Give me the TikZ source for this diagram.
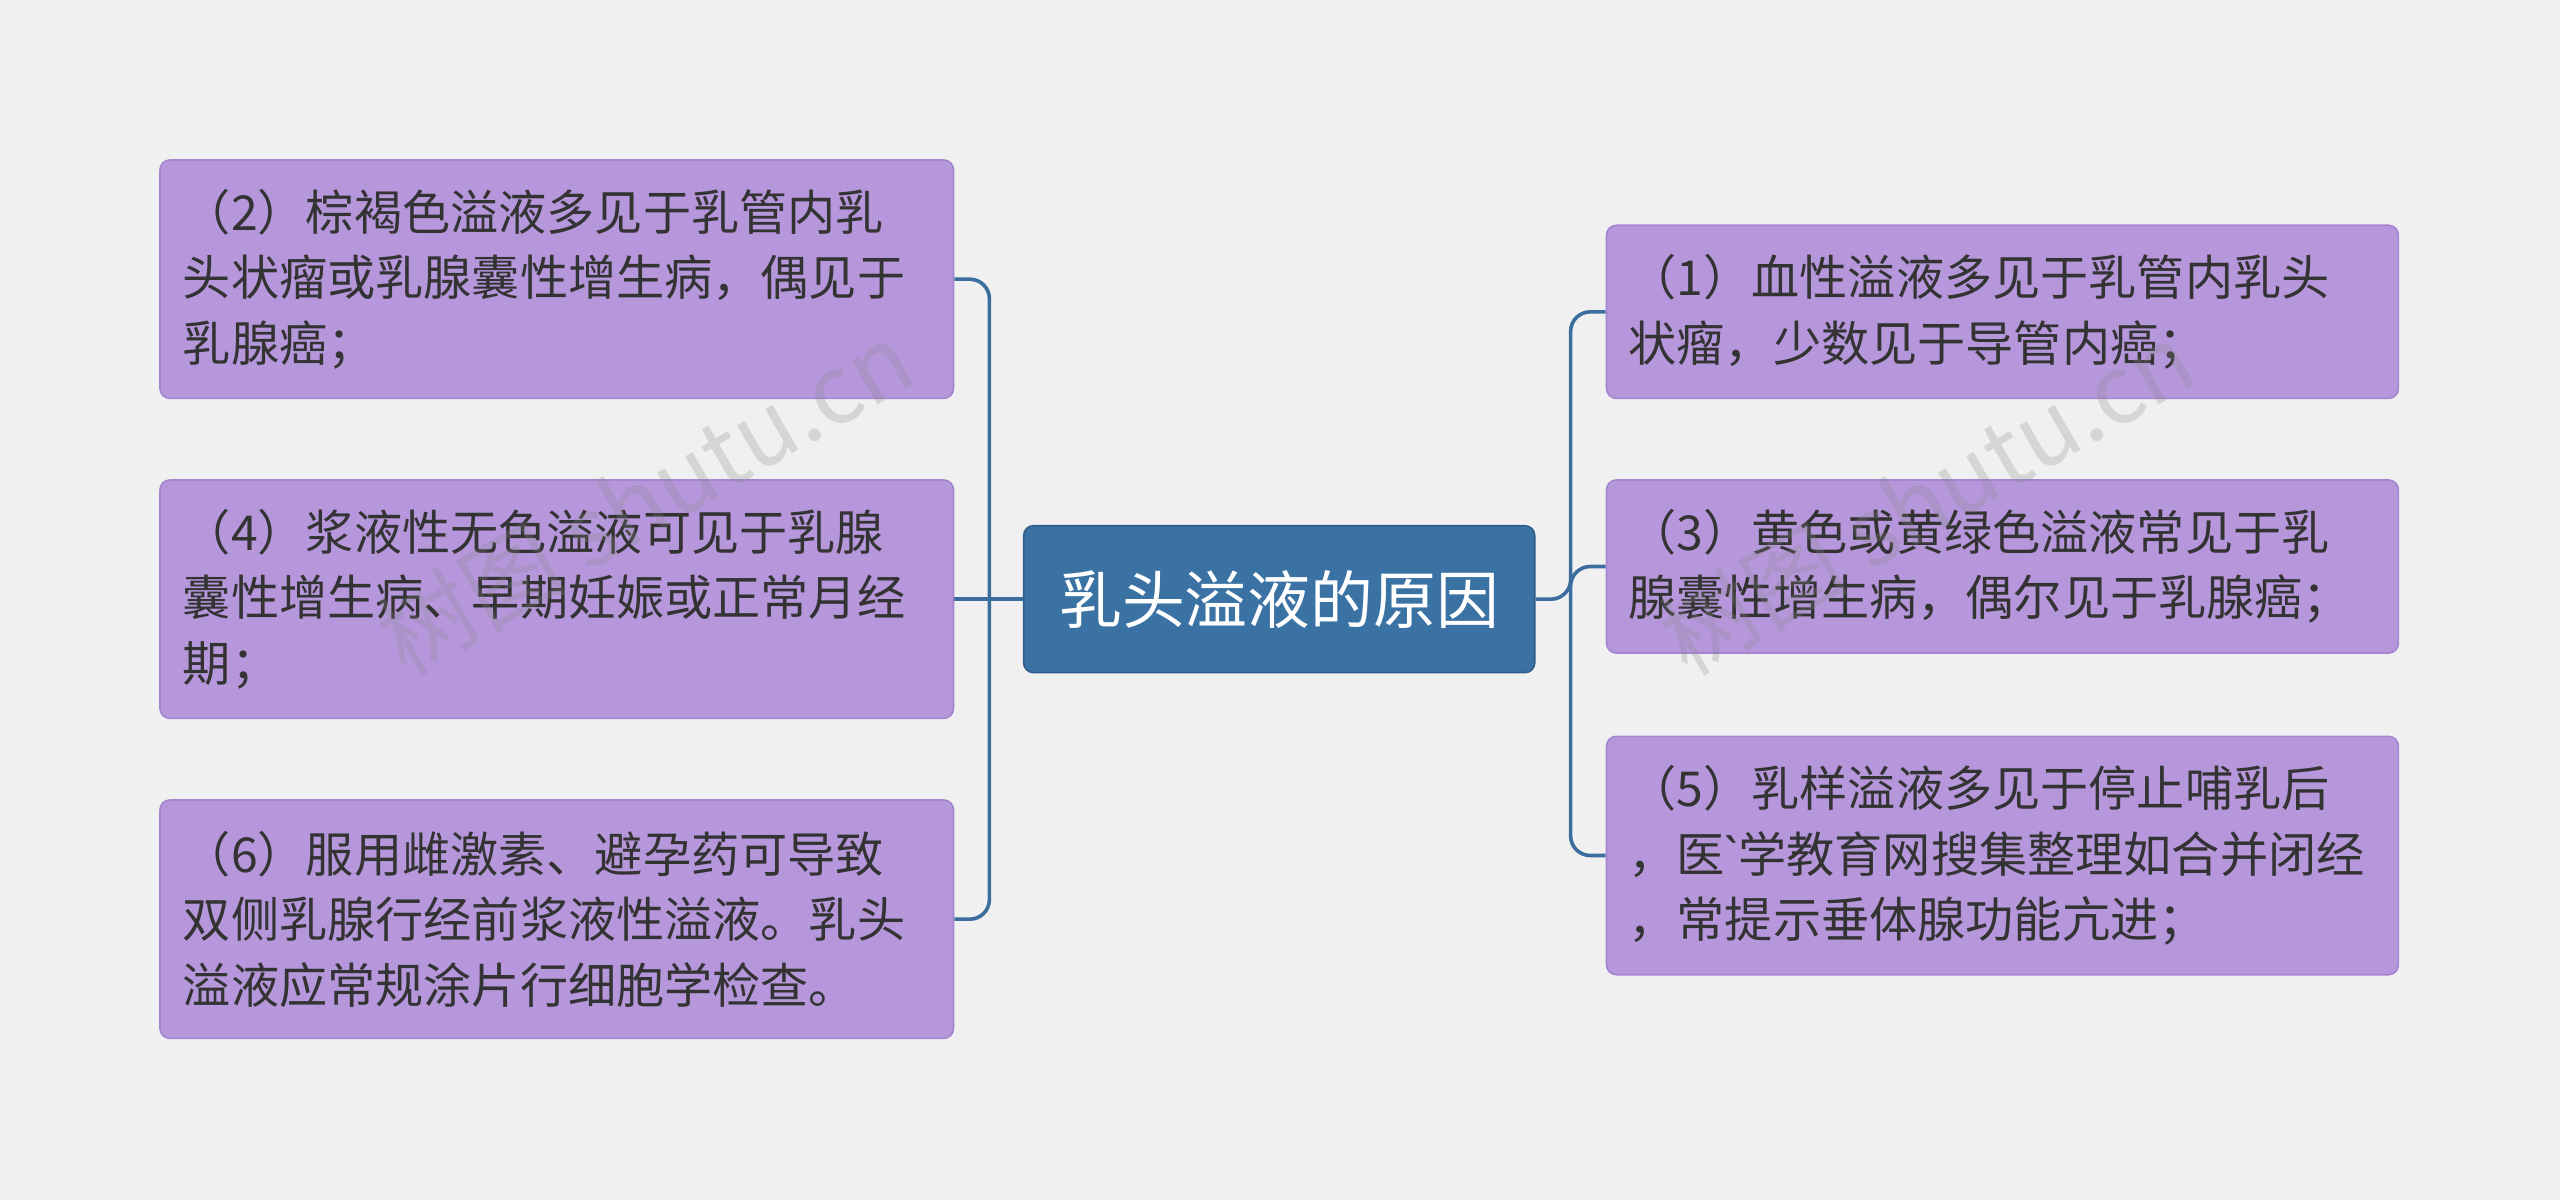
\documentclass[tikz,border=0pt]{standalone}
\usepackage{fontspec}
\setmainfont{Noto Sans CJK SC}
\newfontfamily\latinfont{Noto Sans}
\begin{document}
\begin{tikzpicture}[x=1pt,y=-1pt,
  leaf/.style={draw=leafborder,fill=leaffill,rounded corners=6pt,line width=1pt,align=left,text=txt,font=\fontsize{29.5}{40}\selectfont,inner sep=0pt,text width=458pt},
  root/.style={draw=rootborder,fill=rootfill,rounded corners=6pt,line width=1pt,text=white,font=\fontsize{38.5}{44}\selectfont},
  link/.style={draw=linkc,line width=2.2pt,rounded corners=12pt}]
\definecolor{bg}{HTML}{F0F0F0}
\definecolor{leaffill}{HTML}{B697DB}
\definecolor{leafborder}{HTML}{A585D0}
\definecolor{rootfill}{HTML}{3B72A4}
\definecolor{rootborder}{HTML}{2E5E8C}
\definecolor{linkc}{HTML}{3B6E9E}
\definecolor{txt}{HTML}{333333}
\definecolor{wm}{HTML}{888888}
\fill[bg] (0,0) rectangle (1568,735);
\useasboundingbox (0,0) rectangle (1568,735);
% boxes
\node[root,minimum width=313pt,minimum height=90pt] (c) at (783.5,367) {乳头溢液的原因};
\node[leaf,minimum width=486pt,minimum height=146pt] (l1) at (341,171) {（2）棕褐色溢液多见于乳管内乳\\头状瘤或乳腺囊性增生病，偶见于\\乳腺癌；};
\node[leaf,minimum width=486pt,minimum height=146pt] (l2) at (341,367) {（4）浆液性无色溢液可见于乳腺\\囊性增生病、早期妊娠或正常月经\\期；};
\node[leaf,minimum width=486pt,minimum height=146pt] (l3) at (341,563) {（6）服用雌激素、避孕药可导致\\双侧乳腺行经前浆液性溢液。乳头\\溢液应常规涂片行细胞学检查。};
\node[leaf,minimum width=485pt,minimum height=106pt] (r1) at (1226.5,191) {（1）血性溢液多见于乳管内乳头\\状瘤，少数见于导管内癌；};
\node[leaf,minimum width=485pt,minimum height=106pt] (r2) at (1226.5,347) {（3）黄色或黄绿色溢液常见于乳\\腺囊性增生病，偶尔见于乳腺癌；};
\node[leaf,minimum width=485pt,minimum height=146pt] (r3) at (1226.5,524) {（5）乳样溢液多见于停止哺乳后\\，医{\latinfont\symbol{96}}学教育网搜集整理如合并闭经\\，常提示垂体腺功能亢进；};
% connectors
\coordinate (lt) at (606,367);
\coordinate (rt) at (962,367);
\draw[link] (c.west) -- (l2.east);
\draw[link] (lt) |- (l1.east);
\draw[link] (lt) |- (l3.east);
\draw[link] (c.east) -- (rt) |- (r1.west);
\draw[link] (rt) |- (r2.west);
\draw[link] (rt) |- (r3.west);
% watermarks
\node[text=wm,opacity=0.25,font=\fontsize{58}{58}\selectfont,rotate=30] (wm1) at (395,305) {树图 shutu.cn};
\node[text=wm,opacity=0.25,font=\fontsize{58}{58}\selectfont,rotate=30] (wm2) at (1180,305) {树图 shutu.cn};
\end{tikzpicture}
\end{document}
